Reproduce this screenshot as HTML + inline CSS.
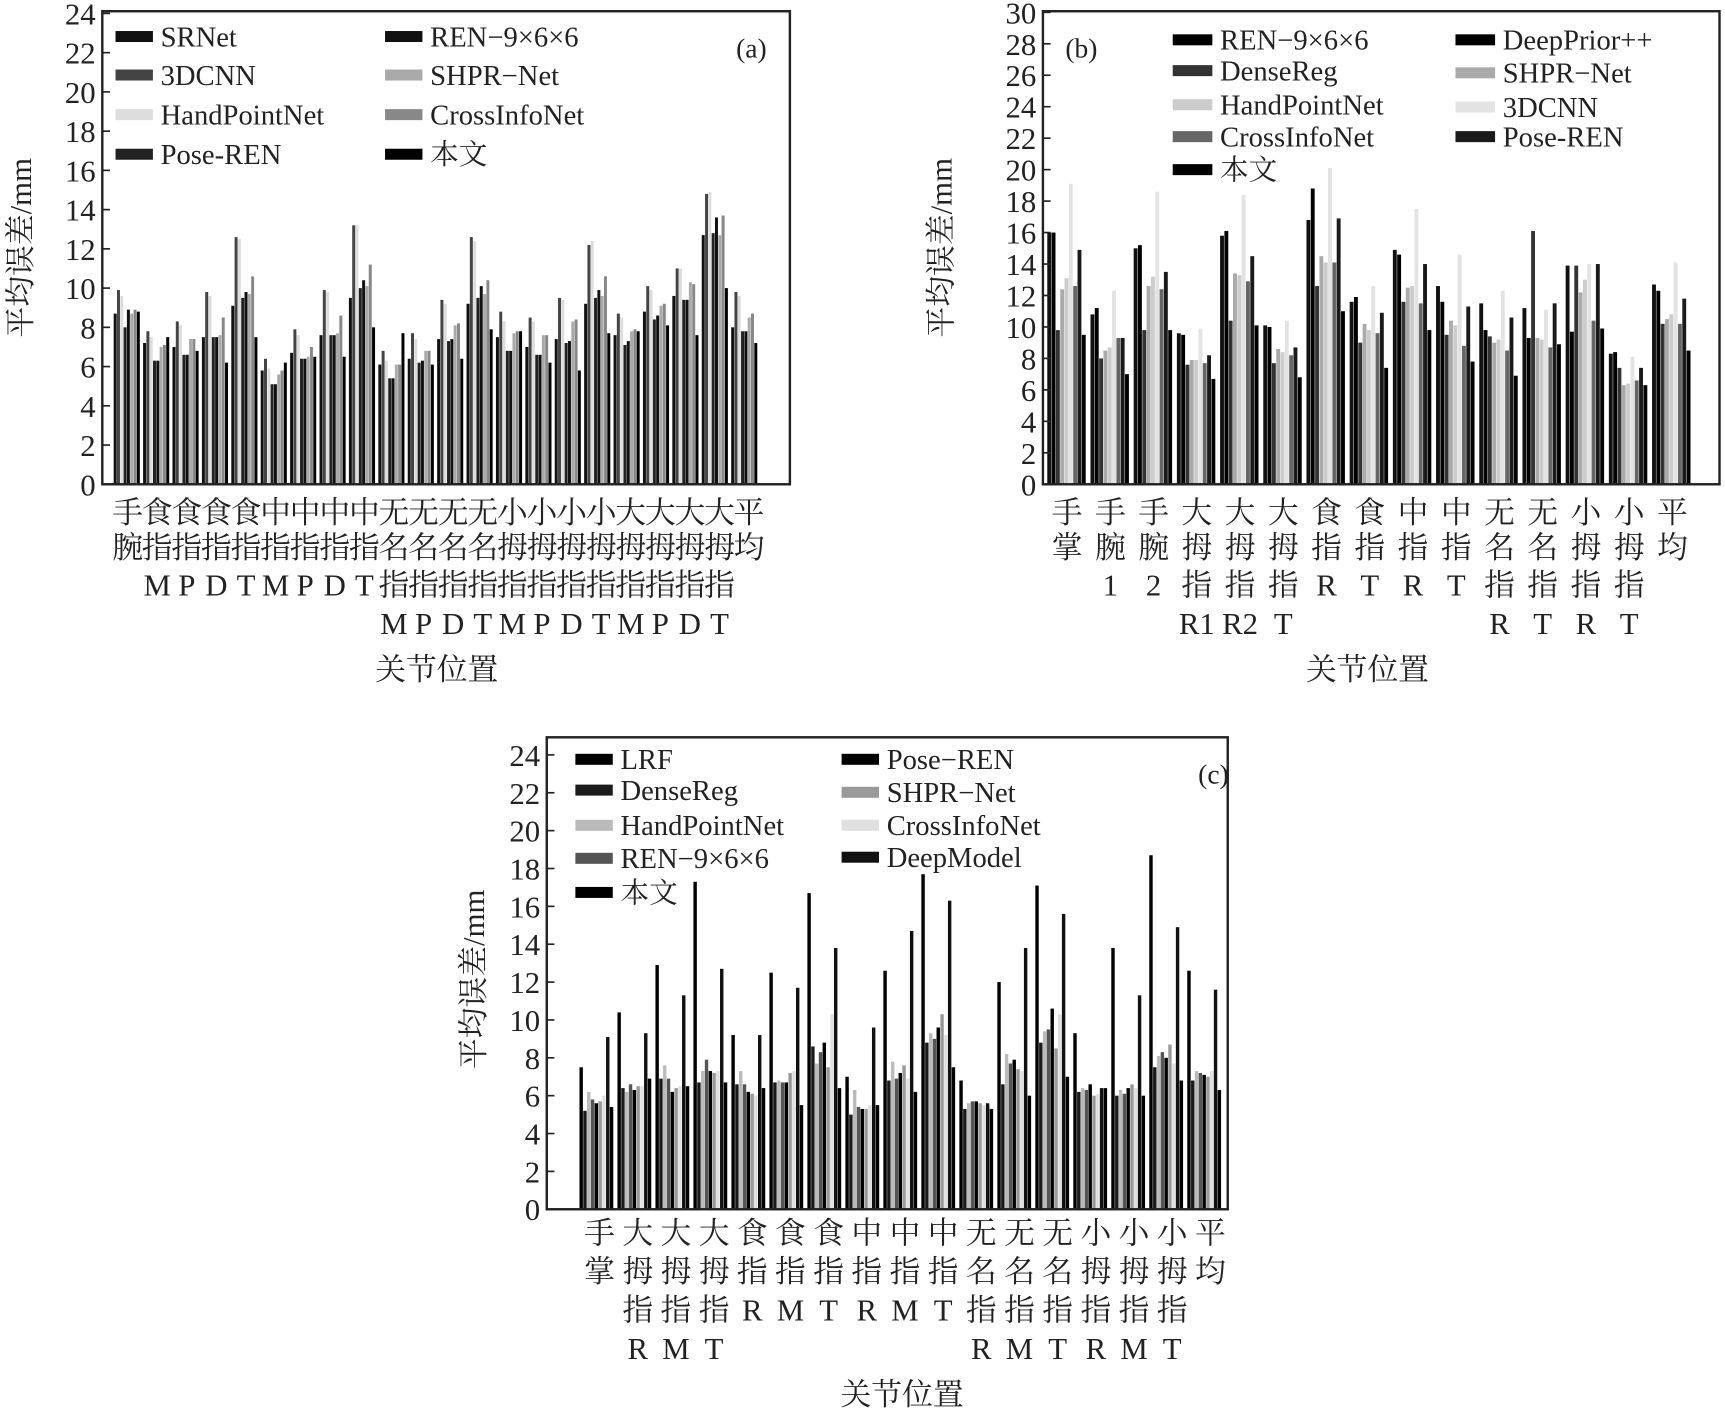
<!DOCTYPE html>
<html><head><meta charset="utf-8">
<style>
html,body{margin:0;padding:0;background:#fff;}
svg{display:block;}
text{font-family:"Liberation Serif","Noto Serif CJK SC","Noto Sans CJK SC",serif;fill:#222;}
</style></head>
<body>
<svg id="s" width="1725" height="1413" viewBox="0 0 1568 1284" xmlns="http://www.w3.org/2000/svg"></svg>
<script>
var S=document.getElementById('s'),o='';
function R(x,y,w,h,c){o+='<rect x="'+x.toFixed(2)+'" y="'+y.toFixed(2)+'" width="'+w.toFixed(2)+'" height="'+h.toFixed(2)+'" fill="'+c+'"/>';}
function T(x,y,s,t,a,extra){o+='<text x="'+x+'" y="'+y+'" font-size="'+s+'"'+(a?' text-anchor="'+a+'"':'')+(extra||'')+'>'+t+'</text>';}
function panel(P){
  var L=P.l,Rr=P.r,top=P.t,b=P.b,ymax=P.ymax,k=(b-P.yt)/ymax;
  var n=P.data.length,gw=(Rr-L-P.pl-P.pr)/n;
  P.data.forEach(function(g,i){
    var m=g.length,bw=gw*0.9/m,x0=L+P.pl+i*gw+gw*0.05;
    g.forEach(function(v,j){var h=v*k;R(x0+j*bw,b-h,bw*0.9,h,P.cols[j]);});
  });
  o+='<rect x="'+L+'" y="'+top+'" width="'+(Rr-L)+'" height="'+(b-top)+'" fill="none" stroke="#222" stroke-width="2.2"/>';
  for(var v=0;v<=ymax;v+=2){var y=b-v*k;o+='<line x1="'+L+'" x2="'+(L+7)+'" y1="'+y+'" y2="'+y+'" stroke="#222" stroke-width="1.5"/>';T(L-6,y+10,28,v,'end');}
  P.leg.forEach(function(e){R(e[0],e[1]-5,e[3]||34,10,e[4]);T(e[0]+(e[3]||34)+7,e[1]+9,26,e[2]);});
  T(P.tag[0],P.tag[1],25,P.tag[2],'middle');
  o+='<text x="'+P.yl[0]+'" y="'+P.yl[1]+'" font-size="28" text-anchor="middle" transform="rotate(-90 '+P.yl[0]+' '+P.yl[1]+')">平均误差/mm</text>';
  P.xl.forEach(function(col,i){var x=P.cx0+i*P.cdx;col.forEach(function(t,r){if(t)T(x,P.ry[r],28,t,'middle');});});
  T(P.xt[0],P.xt[1],28,'关节位置','middle');
}
var ca=['#111','#444','#ddd','#222','#111','#aaa','#888','#000'];
var da=[[8.7,9.9,9.6,8.0,8.9,8.7,8.9,8.8],[7.2,7.8,7.5,6.3,6.3,7.0,7.1,7.5],[7.0,8.3,8.1,6.6,6.6,7.4,7.4,6.8],[7.5,9.8,9.6,7.5,7.5,7.6,8.5,6.2],[9.1,12.6,12.5,9.5,9.8,9.7,10.6,7.5],[5.8,6.4,5.9,5.1,5.1,5.6,5.8,6.2],[6.7,7.9,7.6,6.4,6.4,6.5,7.0,6.5],[7.6,9.9,9.8,7.6,7.6,7.7,8.6,6.5],[9.5,13.2,13.2,10.0,10.4,10.1,11.2,8.0],[6.1,6.8,6.3,5.4,5.4,6.1,6.1,7.7],[6.4,7.7,7.4,6.2,6.3,6.8,6.8,6.1],[7.4,9.4,9.2,7.3,7.4,8.1,8.2,6.4],[9.2,12.6,12.4,9.5,10.1,9.7,10.4,7.9],[7.5,8.8,8.3,6.8,6.8,7.7,7.8,7.8],[7.0,8.5,8.3,6.6,6.6,7.6,7.6,6.2],[7.4,9.5,9.4,7.2,7.3,8.3,8.4,5.8],[9.2,12.2,12.4,9.5,9.9,9.6,10.6,7.7],[7.6,8.7,8.5,7.1,7.3,7.8,7.9,7.8],[8.8,10.1,9.9,8.4,8.6,9.1,9.2,8.1],[9.6,11.0,11.0,9.4,9.4,10.3,10.2,7.6],[12.7,14.8,14.9,12.8,13.6,12.7,13.7,10.0],[8.0,9.8,9.6,7.8,7.8,8.5,8.7,7.2]];
var r1='手食食食食中中中中无无无无小小小小大大大大平'.split(''),r2='腕指指指指指指指指名名名名拇拇拇拇拇拇拇拇均'.split('');
var r3=['','M','P','D','T','M','P','D','T','指','指','指','指','指','指','指','指','指','指','指','指',''];
var r4=['','','','','','','','','','M','P','D','T','M','P','D','T','M','P','D','T',''];
var xa=r1.map(function(c,i){return [c,r2[i],r3[i],r4[i]];});
panel({l:93,r:718,t:10,b:440,yt:12,ymax:24,pl:9,pr:28,data:da,cols:ca,
 leg:[[105,33,'SRNet',34,'#111'],[105,68,'3DCNN',34,'#444'],[105,104,'HandPointNet',34,'#ddd'],[105,140,'Pose-REN',34,'#222'],[350,33,'REN−9×6×6',34,'#111'],[350,68,'SHPR−Net',34,'#aaa'],[350,104,'CrossInfoNet',34,'#888'],[350,140,'本文',34,'#000']],
 tag:[683,52,'(a)'],yl:[28,225],xl:xa,cx0:116,cdx:26.9,ry:[475,507,541,576],xt:[397,618]});
var cb=['#111','#000','#333','#aaa','#ccc','#e3e3e3','#666','#1a1a1a','#000'];
var db=[[16,16,9.8,12.4,13.1,19.1,12.6,14.9,9.5],[10.8,11.2,8.0,8.5,8.7,12.3,9.3,9.3,7.0],[15,15.2,9.8,12.6,13.2,18.6,12.4,13.5,9.8],[9.6,9.5,7.6,7.9,7.9,9.9,7.7,8.2,6.7],[15.8,16.1,10.4,13.4,13.3,18.4,12.9,14.5,10.1],[10.1,10,7.7,8.6,8.4,10.4,8.2,8.7,6.8],[16.8,18.8,12.6,14.5,14.1,20.1,14.1,16.9,11.0],[11.6,11.9,9.0,10.2,9.8,12.6,9.6,10.9,7.4],[14.9,14.6,11.6,12.5,12.6,17.5,11.5,14.0,9.8],[12.6,11.6,9.5,10.4,10.1,14.6,8.8,11.3,7.8],[11.5,9.8,9.4,9.0,9.2,12.3,8.5,10.6,6.9],[11.2,9.3,16.1,9.3,9.2,11.1,8.7,11.5,8.9],[13.9,9.7,13.9,12.2,13.0,14.0,10.4,14.0,9.9],[8.3,8.4,7.4,6.3,6.4,8.1,6.6,7.4,6.3],[12.7,12.3,10.2,10.5,10.8,14.1,10.2,11.8,8.5]];
var xb=[['手','掌'],['手','腕','1'],['手','腕','2'],['大','拇','指','R1'],['大','拇','指','R2'],['大','拇','指','T'],['食','指','R'],['食','指','T'],['中','指','R'],['中','指','T'],['无','名','指','R'],['无','名','指','T'],['小','拇','指','R'],['小','拇','指','T'],['平','均']];
panel({l:948,r:1563,t:10,b:440,yt:11,ymax:30,pl:2,pr:24,data:db,cols:cb,
 leg:[[1066,36,'REN−9×6×6',36,'#000'],[1066,64,'DenseReg',36,'#333'],[1066,95,'HandPointNet',36,'#ccc'],[1066,124,'CrossInfoNet',36,'#666'],[1066,154,'本文',36,'#000'],[1323,36,'DeepPrior++',36,'#000'],[1323,66,'SHPR−Net',36,'#aaa'],[1323,97,'3DCNN',36,'#e3e3e3'],[1323,124,'Pose-REN',36,'#1a1a1a']],
 tag:[983,52,'(b)'],yl:[865,225],xl:xb,cx0:970,cdx:39.3,ry:[475,507,541,576],xt:[1243,618]});
var cc=['#000','#1a1a1a','#bbb','#555','#000','#999','#e0e0e0','#111','#000'];
var dc=[[7.5,5.2,6.2,5.8,5.6,5.7,6.0,9.1,5.4],[10.4,6.4,6.2,6.6,6.3,6.5,6.5,9.3,6.9],[12.9,6.9,7.6,6.9,6.2,6.4,6.5,11.3,6.5],[17.3,6.7,7.3,7.9,7.3,7.2,7.3,12.7,6.7],[9.2,6.6,7.3,6.6,6.2,6.1,6.0,9.2,6.4],[12.5,6.7,6.8,6.7,6.7,7.2,7.3,11.7,5.5],[16.7,8.6,7.7,8.3,8.8,7.5,10.3,13.8,6.4],[7.0,5.0,6.3,5.4,5.3,5.3,5.5,9.6,5.5],[12.6,6.8,7.8,6.9,7.2,7.6,6.9,14.7,6.2],[17.7,8.8,9.3,9.0,9.6,10.3,9.2,16.3,7.5],[6.8,5.3,5.6,5.7,5.7,5.6,5.5,5.6,5.3],[12.0,6.6,8.2,7.7,7.9,7.4,7.3,13.8,6.0],[17.1,8.8,9.4,9.5,10.6,8.5,10.3,15.6,7.0],[9.3,6.2,6.4,6.3,6.6,6.0,6.1,6.4,6.4],[13.8,6.0,6.3,6.1,6.4,6.6,6.4,11.3,6.0],[18.7,7.5,8.1,8.3,8.0,8.7,7.7,14.9,6.8],[12.6,6.8,7.3,7.2,7.1,7.0,7.3,11.6,6.3]];
var xc=[['手','掌'],['大','拇','指','R'],['大','拇','指','M'],['大','拇','指','T'],['食','指','R'],['食','指','M'],['食','指','T'],['中','指','R'],['中','指','M'],['中','指','T'],['无','名','指','R'],['无','名','指','M'],['无','名','指','T'],['小','拇','指','R'],['小','拇','指','M'],['小','拇','指','T'],['平','均']];
panel({l:497,r:1116,t:670,b:1099,yt:686,ymax:24,pl:28,pr:4,data:dc,cols:cc,
 leg:[[523,690,'LRF',34,'#000'],[523,718,'DenseReg',34,'#1a1a1a'],[523,750,'HandPointNet',34,'#bbb'],[523,780,'REN−9×6×6',34,'#555'],[523,811,'本文',34,'#000'],[765,690,'Pose−REN',34,'#000'],[765,720,'SHPR−Net',34,'#999'],[765,750,'CrossInfoNet',34,'#e0e0e0'],[765,779,'DeepModel',34,'#111']],
 tag:[1103,712,'(c)'],yl:[440,890],xl:xc,cx0:545,cdx:34.7,ry:[1130,1165,1200,1235],xt:[820,1277]});
S.innerHTML=o;
</script>
</body></html>
